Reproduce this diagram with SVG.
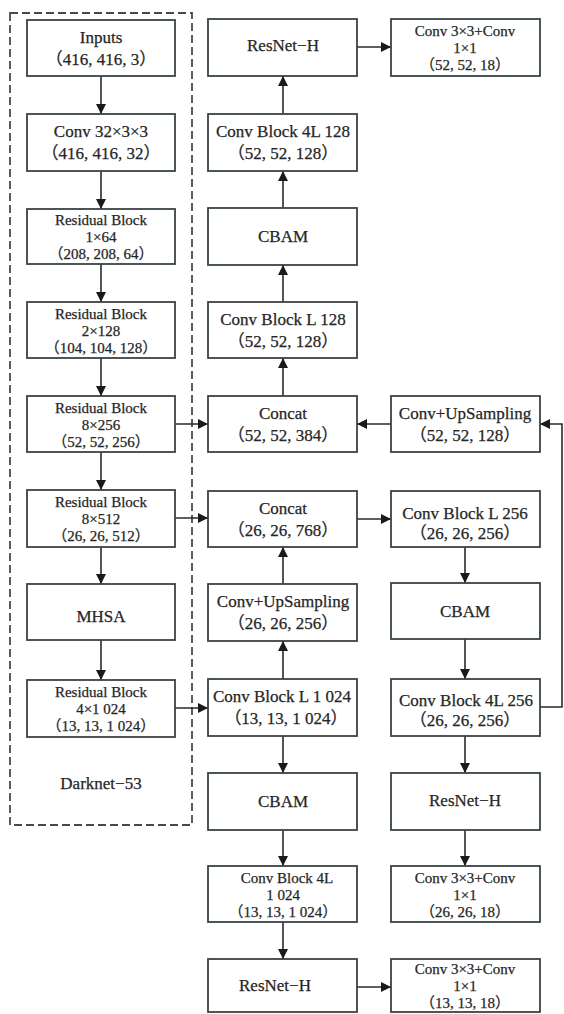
<svg xmlns="http://www.w3.org/2000/svg" width="564" height="1014" viewBox="0 0 564 1014">
  <style>
    .box { fill: #ffffff; stroke: #3a4444; stroke-width: 1.8; }
    .lbl { font-family: "Liberation Serif", "Noto Sans CJK SC", serif; font-size: 17px; fill: #262626; stroke: #262626; stroke-width: 0.25; text-anchor: middle; }
    .sm { font-size: 15px; }
    .wire { fill: none; stroke: #2a2a2a; stroke-width: 1.6; }
    .frame { fill: none; stroke: #4a4a4a; stroke-width: 1.8; stroke-dasharray: 8 4; }
  </style>
  <defs>
    <marker id="tip" viewBox="0 0 10 10" refX="10" refY="5" markerWidth="10" markerHeight="10" markerUnits="userSpaceOnUse" orient="auto">
      <path d="M0,0 L10,5 L0,10 Z" fill="#1a1a1a"/>
    </marker>
  </defs>
  <rect width="564" height="1014" fill="#ffffff"/>

  <!-- backbone frame -->
  <g id="darknet53">
    <rect class="frame" x="10" y="13" width="182" height="812"/>
    <text class="lbl" x="101" y="789">Darknet−53</text>
  </g>

  <!-- connectors -->
  <g id="connectors">
    <!-- backbone chain -->
    <line class="wire" x1="101" y1="76" x2="101" y2="114" marker-end="url(#tip)"/>
    <line class="wire" x1="101" y1="171" x2="101" y2="209" marker-end="url(#tip)"/>
    <line class="wire" x1="101" y1="264" x2="101" y2="302" marker-end="url(#tip)"/>
    <line class="wire" x1="101" y1="358" x2="101" y2="396" marker-end="url(#tip)"/>
    <line class="wire" x1="101" y1="452" x2="101" y2="490" marker-end="url(#tip)"/>
    <line class="wire" x1="101" y1="547" x2="101" y2="584" marker-end="url(#tip)"/>
    <line class="wire" x1="101" y1="640" x2="101" y2="680" marker-end="url(#tip)"/>
    <!-- backbone taps -->
    <line class="wire" x1="175" y1="424" x2="208" y2="424" marker-end="url(#tip)"/>
    <line class="wire" x1="175" y1="518" x2="208" y2="518" marker-end="url(#tip)"/>
    <line class="wire" x1="175" y1="708" x2="208" y2="708" marker-end="url(#tip)"/>
    <!-- middle column, 52 branch (upwards) -->
    <line class="wire" x1="283" y1="396" x2="283" y2="358" marker-end="url(#tip)"/>
    <line class="wire" x1="283" y1="302" x2="283" y2="265" marker-end="url(#tip)"/>
    <line class="wire" x1="283" y1="208" x2="283" y2="171" marker-end="url(#tip)"/>
    <line class="wire" x1="283" y1="114" x2="283" y2="76" marker-end="url(#tip)"/>
    <line class="wire" x1="357" y1="47" x2="391" y2="47" marker-end="url(#tip)"/>
    <!-- upsampling into 52 concat -->
    <line class="wire" x1="391" y1="424" x2="357" y2="424" marker-end="url(#tip)"/>
    <!-- 26 branch -->
    <line class="wire" x1="357" y1="519" x2="391" y2="519" marker-end="url(#tip)"/>
    <line class="wire" x1="465" y1="547" x2="465" y2="583" marker-end="url(#tip)"/>
    <line class="wire" x1="465" y1="639" x2="465" y2="679" marker-end="url(#tip)"/>
    <line class="wire" x1="465" y1="736" x2="465" y2="773" marker-end="url(#tip)"/>
    <line class="wire" x1="465" y1="830" x2="465" y2="866" marker-end="url(#tip)"/>
    <polyline class="wire" points="540,707 562,707 562,424 540,424" marker-end="url(#tip)"/>
    <!-- 13 branch up into 26 concat -->
    <line class="wire" x1="283" y1="679" x2="283" y2="641" marker-end="url(#tip)"/>
    <line class="wire" x1="283" y1="584" x2="283" y2="547" marker-end="url(#tip)"/>
    <!-- 13 branch down -->
    <line class="wire" x1="283" y1="736" x2="283" y2="773" marker-end="url(#tip)"/>
    <line class="wire" x1="283" y1="830" x2="283" y2="866" marker-end="url(#tip)"/>
    <line class="wire" x1="283" y1="922" x2="283" y2="959" marker-end="url(#tip)"/>
    <line class="wire" x1="357" y1="987" x2="391" y2="987" marker-end="url(#tip)"/>
  </g>

  <!-- backbone nodes -->
  <g id="inputs">
    <rect class="box" x="27" y="20" width="148" height="56"/>
    <text class="lbl" x="101" y="43">Inputs</text>
    <text class="lbl" x="101" y="65">（416, 416, 3）</text>
  </g>
  <g id="conv32">
    <rect class="box" x="27" y="114" width="148" height="57"/>
    <text class="lbl" x="101" y="137">Conv 32×3×3</text>
    <text class="lbl" x="101" y="159">（416, 416, 32）</text>
  </g>
  <g id="res1">
    <rect class="box" x="27" y="209" width="148" height="55"/>
    <text class="lbl sm" x="101" y="225">Residual Block</text>
    <text class="lbl sm" x="101" y="242">1×64</text>
    <text class="lbl sm" x="101" y="259">（208, 208, 64）</text>
  </g>
  <g id="res2">
    <rect class="box" x="27" y="302" width="148" height="56"/>
    <text class="lbl sm" x="101" y="319">Residual Block</text>
    <text class="lbl sm" x="101" y="336">2×128</text>
    <text class="lbl sm" x="101" y="353">（104, 104, 128）</text>
  </g>
  <g id="res8_256">
    <rect class="box" x="27" y="396" width="148" height="56"/>
    <text class="lbl sm" x="101" y="413">Residual Block</text>
    <text class="lbl sm" x="101" y="430">8×256</text>
    <text class="lbl sm" x="101" y="447">（52, 52, 256）</text>
  </g>
  <g id="res8_512">
    <rect class="box" x="27" y="490" width="148" height="57"/>
    <text class="lbl sm" x="101" y="507">Residual Block</text>
    <text class="lbl sm" x="101" y="524">8×512</text>
    <text class="lbl sm" x="101" y="541">（26, 26, 512）</text>
  </g>
  <g id="mhsa">
    <rect class="box" x="27" y="584" width="148" height="56"/>
    <text class="lbl" x="101" y="622">MHSA</text>
  </g>
  <g id="res4_1024">
    <rect class="box" x="27" y="680" width="148" height="57"/>
    <text class="lbl sm" x="101" y="697">Residual Block</text>
    <text class="lbl sm" x="101" y="714">4×1 024</text>
    <text class="lbl sm" x="101" y="731">（13, 13, 1 024）</text>
  </g>

  <!-- middle column -->
  <g id="resnet_h_52">
    <rect class="box" x="208" y="19" width="149" height="57"/>
    <text class="lbl" x="283" y="51">ResNet−H</text>
  </g>
  <g id="convblock4l_128">
    <rect class="box" x="208" y="114" width="149" height="57"/>
    <text class="lbl" x="283" y="137">Conv Block 4L 128</text>
    <text class="lbl" x="283" y="159">（52, 52, 128）</text>
  </g>
  <g id="cbam_52">
    <rect class="box" x="208" y="208" width="149" height="57"/>
    <text class="lbl" x="283" y="242">CBAM</text>
  </g>
  <g id="convblockl_128">
    <rect class="box" x="208" y="302" width="149" height="56"/>
    <text class="lbl" x="283" y="325">Conv Block L 128</text>
    <text class="lbl" x="283" y="347">（52, 52, 128）</text>
  </g>
  <g id="concat_52">
    <rect class="box" x="208" y="396" width="149" height="56"/>
    <text class="lbl" x="283" y="419">Concat</text>
    <text class="lbl" x="283" y="441">（52, 52, 384）</text>
  </g>
  <g id="concat_26">
    <rect class="box" x="208" y="491" width="149" height="56"/>
    <text class="lbl" x="283" y="514">Concat</text>
    <text class="lbl" x="283" y="536">（26, 26, 768）</text>
  </g>
  <g id="upsample_26">
    <rect class="box" x="208" y="584" width="149" height="57"/>
    <text class="lbl" x="283" y="607">Conv+UpSampling</text>
    <text class="lbl" x="283" y="629">（26, 26, 256）</text>
  </g>
  <g id="convblockl_1024">
    <rect class="box" x="208" y="679" width="149" height="57"/>
    <text class="lbl" x="282" y="702">Conv Block L 1 024</text>
    <text class="lbl" x="286" y="724">（13, 13, 1 024）</text>
  </g>
  <g id="cbam_13">
    <rect class="box" x="208" y="773" width="149" height="57"/>
    <text class="lbl" x="283" y="807">CBAM</text>
  </g>
  <g id="convblock4l_1024">
    <rect class="box" x="208" y="866" width="149" height="56"/>
    <text class="lbl sm" x="287" y="883">Conv Block 4L</text>
    <text class="lbl sm" x="283" y="900">1 024</text>
    <text class="lbl sm" x="283" y="917">（13, 13, 1 024）</text>
  </g>
  <g id="resnet_h_13">
    <rect class="box" x="208" y="959" width="149" height="53"/>
    <text class="lbl" x="275" y="991">ResNet−H</text>
  </g>

  <!-- right column -->
  <g id="head_52">
    <rect class="box" x="391" y="19" width="149" height="57"/>
    <text class="lbl sm" x="465" y="36">Conv 3×3+Conv</text>
    <text class="lbl sm" x="465" y="53">1×1</text>
    <text class="lbl sm" x="465" y="70">（52, 52, 18）</text>
  </g>
  <g id="upsample_52">
    <rect class="box" x="391" y="396" width="149" height="56"/>
    <text class="lbl" x="465" y="419">Conv+UpSampling</text>
    <text class="lbl" x="465" y="441">（52, 52, 128）</text>
  </g>
  <g id="convblockl_256">
    <rect class="box" x="391" y="491" width="149" height="56"/>
    <text class="lbl" x="465" y="519">Conv Block L 256</text>
    <text class="lbl" x="465" y="539">（26, 26, 256）</text>
  </g>
  <g id="cbam_26">
    <rect class="box" x="391" y="583" width="149" height="56"/>
    <text class="lbl" x="465" y="617">CBAM</text>
  </g>
  <g id="convblock4l_256">
    <rect class="box" x="391" y="679" width="149" height="57"/>
    <text class="lbl" x="466" y="706">Conv Block 4L 256</text>
    <text class="lbl" x="465" y="726">（26, 26, 256）</text>
  </g>
  <g id="resnet_h_26">
    <rect class="box" x="391" y="773" width="149" height="57"/>
    <text class="lbl" x="465" y="806">ResNet−H</text>
  </g>
  <g id="head_26">
    <rect class="box" x="391" y="866" width="149" height="56"/>
    <text class="lbl sm" x="465" y="883">Conv 3×3+Conv</text>
    <text class="lbl sm" x="465" y="900">1×1</text>
    <text class="lbl sm" x="465" y="917">（26, 26, 18）</text>
  </g>
  <g id="head_13">
    <rect class="box" x="391" y="959" width="149" height="53"/>
    <text class="lbl sm" x="465" y="974">Conv 3×3+Conv</text>
    <text class="lbl sm" x="465" y="991">1×1</text>
    <text class="lbl sm" x="465" y="1008">（13, 13, 18）</text>
  </g>
</svg>
